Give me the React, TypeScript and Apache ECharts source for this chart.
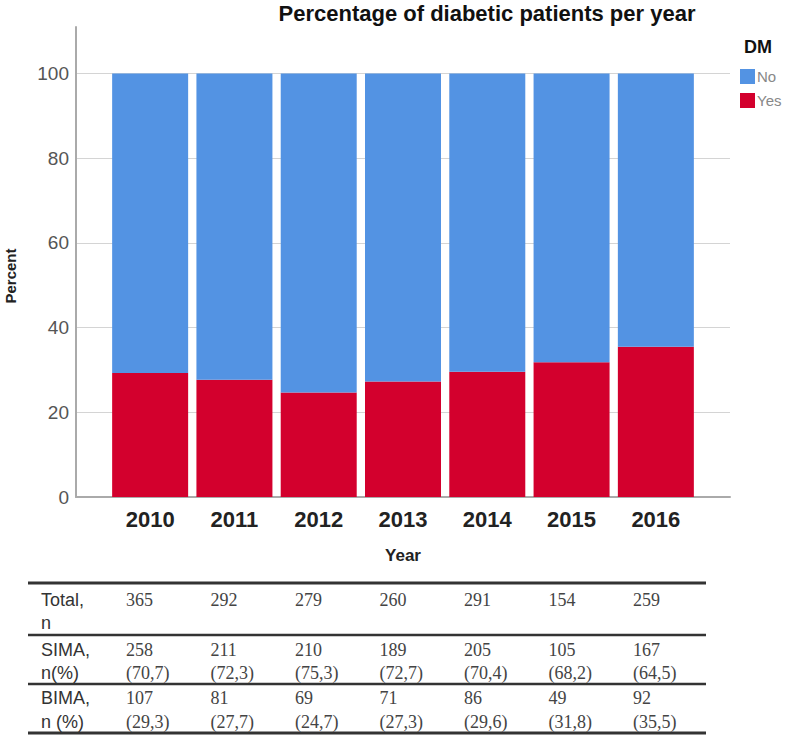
import React, { useEffect, useRef } from 'react';
import * as echarts from 'echarts';

const years = ['2010', '2011', '2012', '2013', '2014', '2015', '2016'];
const totalN = [365, 292, 279, 260, 291, 154, 259];
const simaN = [258, 211, 210, 189, 205, 105, 167];
const simaPct = [70.7, 72.3, 75.3, 72.7, 70.4, 68.2, 64.5];
const bimaN = [107, 81, 69, 71, 86, 49, 92];
const bimaPct = [29.3, 27.7, 24.7, 27.3, 29.6, 31.8, 35.5];
const rowLabels = [['Total,', 'n'], ['SIMA,', 'n(%)'], ['BIMA,', 'n (%)']];

const SANS = '"Liberation Sans", Arial, sans-serif';
const SERIF = '"Liberation Serif", "Times New Roman", serif';

const fmtPct = (v: number) => '(' + v.toFixed(1).replace('.', ',') + ')';

export default function App() {
  const ref = useRef<HTMLDivElement>(null);
  useEffect(() => {
    if (!ref.current) return;
    const chart = echarts.init(ref.current, null, { renderer: 'svg' });

    const graphics: any[] = [];
    graphics.push({
      type: 'text', x: 487, y: 13,
      style: { text: 'Percentage of diabetic patients per year', fontSize: 22, fontWeight: 'bold', fontFamily: SANS, fill: '#111', align: 'center', verticalAlign: 'middle' },
    });
    graphics.push({
      type: 'text', x: 10, y: 276, rotation: Math.PI / 2,
      style: { text: 'Percent', fontSize: 15, fontWeight: 'bold', fontFamily: SANS, fill: '#222', align: 'center', verticalAlign: 'middle' },
    });
    graphics.push({
      type: 'text', x: 403, y: 555,
      style: { text: 'Year', fontSize: 17, fontWeight: 'bold', fontFamily: SANS, fill: '#222', align: 'center', verticalAlign: 'middle' },
    });
    graphics.push({
      type: 'text', x: 758, y: 47,
      style: { text: 'DM', fontSize: 18, fontWeight: 'bold', fontFamily: SANS, fill: '#111', align: 'center', verticalAlign: 'middle' },
    });

    // table
    const lineYs = [583, 635, 684, 733];
    lineYs.forEach((y, i) => {
      graphics.push({
        type: 'line', shape: { x1: 28, y1: y, x2: 706, y2: y },
        style: { stroke: '#333', lineWidth: i === 0 || i === 3 ? 3 : 2.5 },
      });
    });
    const rowY = [[600, 623], [650, 673], [698, 722]];
    rowLabels.forEach((lab, r) => {
      lab.forEach((t, k) => {
        graphics.push({
          type: 'text', x: 41, y: rowY[r][k],
          style: { text: t, fontSize: 18, fontFamily: SANS, fill: '#333', align: 'left', verticalAlign: 'middle' },
        });
      });
    });
    const rows: string[][][] = [
      totalN.map((v) => [String(v)]),
      simaN.map((v, i) => [String(v), fmtPct(simaPct[i])]),
      bimaN.map((v, i) => [String(v), fmtPct(bimaPct[i])]),
    ];
    rows.forEach((row, r) => {
      row.forEach((cell, c) => {
        cell.forEach((t, k) => {
          graphics.push({
            type: 'text', x: 126 + c * 84.5, y: rowY[r][k],
            style: { text: t, fontSize: 18, fontFamily: SERIF, fill: '#444', align: 'left', verticalAlign: 'middle' },
          });
        });
      });
    });

    chart.setOption({
      animation: false,
      grid: [
        { left: 108, top: 27, width: 590, height: 470, containLabel: false },
        { left: 76, top: 27, width: 654, height: 470, containLabel: false },
      ],
      legend: {
        data: ['No', 'Yes'], orient: 'vertical', left: 735, top: 64,
        itemWidth: 15, itemHeight: 15, itemGap: 9, icon: 'rect',
        textStyle: { fontSize: 15, color: '#888', fontFamily: SANS, padding: [0, 0, 0, -3] },
      },
      xAxis: [
        {
          type: 'category', gridIndex: 0, data: years,
          axisLine: { show: false }, axisTick: { show: false }, splitLine: { show: false },
          axisLabel: { fontSize: 22, fontWeight: 'bold', color: '#222', fontFamily: SANS, margin: 11 },
        },
        {
          type: 'value', gridIndex: 1, min: 0, max: 1,
          axisLine: { show: true, onZero: false, lineStyle: { color: '#aaa', width: 2 } },
          axisTick: { show: false }, splitLine: { show: false }, axisLabel: { show: false },
        },
      ],
      yAxis: [
        { type: 'value', gridIndex: 0, min: 0, max: 111, show: false, splitLine: { show: false } },
        {
          type: 'value', gridIndex: 1, min: 0, max: 111, interval: 20,
          axisLine: { show: true, onZero: false, lineStyle: { color: '#aaa', width: 2 } },
          axisTick: { show: false },
          splitLine: { show: true, showMaxLine: false, lineStyle: { color: '#d4d4d4', width: 1 } },
          axisLabel: { showMaxLabel: false, fontSize: 19, color: '#555', fontFamily: SANS, margin: 7 },
        },
      ],
      series: [
        {
          name: 'Yes', type: 'bar', stack: 'dm', barWidth: 76, xAxisIndex: 0, yAxisIndex: 0,
          itemStyle: { color: '#D3002D' },
          data: bimaPct,
        },
        {
          name: 'No', type: 'bar', stack: 'dm', barWidth: 76, xAxisIndex: 0, yAxisIndex: 0,
          itemStyle: { color: '#5393E3' },
          data: simaPct,
        },
      ],
      graphic: graphics,
    });
    return () => chart.dispose();
  }, []);
  return <div ref={ref} style={{ width: 787, height: 738, position: 'absolute', left: 0, top: 0 }} />;
}
